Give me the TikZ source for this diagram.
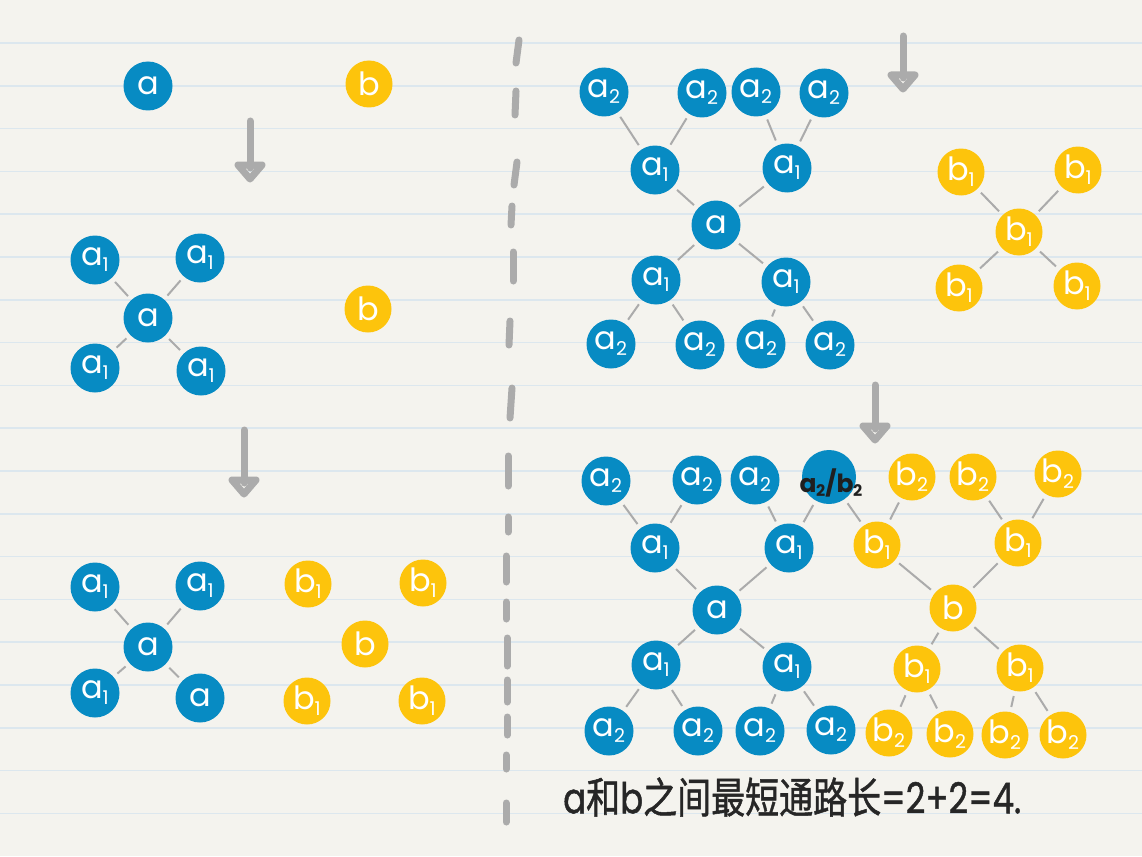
\documentclass[tikz,border=0pt]{standalone}
\usepackage{fontspec}
\setmainfont{Poppins}
\newfontfamily\cjk[FakeBold=1.2]{Noto Sans CJK SC}
\newfontfamily\pop[FakeBold=1.2]{Poppins}
\definecolor{bg}{HTML}{F4F3EE}
\definecolor{ruleblue}{HTML}{DCE7EE}
\definecolor{nblue}{HTML}{078BC3}
\definecolor{nyel}{HTML}{FDC40C}
\definecolor{gr}{HTML}{ABABAB}
\newcommand\lab{\fontsize{32}{32}\selectfont}
\newcommand\sublab[2]{#1\kern-0.5pt\raisebox{-6pt}{\fontsize{19}{19}\selectfont #2}}
\tikzset{
  bn/.style={circle, fill=nblue, minimum size=49pt, inner sep=0pt, text=white, font=\lab},
  yn/.style={circle, fill=nyel, minimum size=47pt, inner sep=0pt, text=white, font=\lab},
  edge/.style={draw=gr, line width=2pt, shorten <=5pt, shorten >=5pt},
  dashseg/.style={draw=gr, line width=7pt, line cap=round},
  arrowline/.style={draw=gr, line width=7pt, line cap=round, line join=round},
  ruleline/.style={draw=ruleblue, line width=1.5pt}
}
\newcommand\garrow[4]{%
  \coordinate (#1s) at (#2,#3);
  \coordinate (#1e) at (#2,#4-14);
  \draw[arrowline] (#1s) -- (#1e);
  \draw[arrowline] (#2-12,#4-17) -- (#2+12,#4-17) -- (#2,#4-3) -- cycle;
}
\begin{document}
\begin{tikzpicture}[x=1pt,y=-1pt]
\useasboundingbox (0,0) rectangle (1142,856);
\fill[bg] (0,0) rectangle (1142,856);
\foreach \i in {0,...,18} \draw[ruleline] (0,{43+\i*42.8}) -- (1142,{43+\i*42.8});
% divider
\foreach \xa/\ya/\xb/\yb in {519/40/516/63, 516/91/515/115, 517/162/514/185, 512/206/511/225,
  513/252/513/281, 510/321/509/345, 512/388/510/418, 508/456/508/486, 508/517/508/532,
  506/556/506/582, 506/602/506/619, 507/638/507/666, 507/680/507/702, 507/717/507/735,
  506/755/506/769, 506/803/506/822}
  \draw[dashseg] (\xa,\ya) -- (\xb,\yb);
% arrows
\garrow{arA}{250}{121}{182}
\garrow{arB}{244}{430}{497}
\garrow{arC}{903}{36}{92}
\garrow{arD}{875}{385}{443}
% left row 1
\node[bn] (L1a) at (148,86) {a};
\node[yn] (L1b) at (369,84) {b};
% left row 2
\node[bn] (L2a) at (148,318) {a};
\node[bn] (L2p) at (95,260) {\sublab{a}{1}};
\node[bn] (L2q) at (200,258) {\sublab{a}{1}};
\node[bn] (L2r) at (95,368) {\sublab{a}{1}};
\node[bn] (L2s) at (201,371) {\sublab{a}{1}};
\node[yn] (L2b) at (368,309) {b};
\foreach \n in {L2p,L2q,L2r,L2s} \draw[edge] (L2a) -- (\n);
% left row 3
\node[bn] (L3a) at (148,647) {a};
\node[bn] (L3p) at (95,587) {\sublab{a}{1}};
\node[bn] (L3q) at (200,586) {\sublab{a}{1}};
\node[bn] (L3r) at (95,693) {\sublab{a}{1}};
\node[bn] (L3s) at (200,698) {a};
\foreach \n in {L3p,L3q,L3r,L3s} \draw[edge] (L3a) -- (\n);
\node[yn] (L3b) at (365,644) {b};
\node[yn] (L3u) at (308,584) {\sublab{b}{1}};
\node[yn] (L3v) at (423,583) {\sublab{b}{1}};
\node[yn] (L3w) at (307,701) {\sublab{b}{1}};
\node[yn] (L3x) at (422,701) {\sublab{b}{1}};
% right top
\node[bn] (RTa) at (716,225) {a};
\node[bn] (RTp) at (655,170) {\sublab{a}{1}};
\node[bn] (RTq) at (787,168) {\sublab{a}{1}};
\node[bn] (RTr) at (656,280) {\sublab{a}{1}};
\node[bn] (RTs) at (786,282) {\sublab{a}{1}};
\node[bn] (RT1) at (604,92) {\sublab{a}{2}};
\node[bn] (RT2) at (702,93) {\sublab{a}{2}};
\node[bn] (RT3) at (756,92) {\sublab{a}{2}};
\node[bn] (RT4) at (824,93) {\sublab{a}{2}};
\node[bn] (RT5) at (611,344) {\sublab{a}{2}};
\node[bn] (RT6) at (700,345) {\sublab{a}{2}};
\node[bn] (RT7) at (761,344) {\sublab{a}{2}};
\node[bn] (RT8) at (830,345) {\sublab{a}{2}};
\foreach \u/\v in {RT1/RTp, RT2/RTp, RT3/RTq, RT4/RTq, RTp/RTa, RTq/RTa, RTa/RTr, RTa/RTs,
  RTr/RT5, RTr/RT6, RTs/RT7, RTs/RT8} \draw[edge] (\u) -- (\v);
\node[yn] (RTb) at (1019,232) {\sublab{b}{1}};
\node[yn] (RTu) at (961,172) {\sublab{b}{1}};
\node[yn] (RTv) at (1078,170) {\sublab{b}{1}};
\node[yn] (RTw) at (959,288) {\sublab{b}{1}};
\node[yn] (RTx) at (1077,286) {\sublab{b}{1}};
\foreach \n in {RTu,RTv,RTw,RTx} \draw[edge] (RTb) -- (\n);
% right bottom
\node[bn] (RBa) at (717,610) {a};
\node[bn] (RBp) at (655,548) {\sublab{a}{1}};
\node[bn] (RBq) at (789,548) {\sublab{a}{1}};
\node[bn] (RBr) at (656,665) {\sublab{a}{1}};
\node[bn] (RBs) at (787,667) {\sublab{a}{1}};
\node[bn] (RB1) at (606,481) {\sublab{a}{2}};
\node[bn] (RB2) at (697,480) {\sublab{a}{2}};
\node[bn] (RB3) at (755,480) {\sublab{a}{2}};
\node[bn, minimum size=54pt] (RB4) at (829,477) {};
\node[text=black!88, font=\fontsize{25}{25}\selectfont\bfseries] (RB4t) at (831,483)
  {a\kern-0.5pt\raisebox{-4pt}{\fontsize{16}{16}\selectfont 2}/b\kern-0.5pt\raisebox{-4pt}{\fontsize{16}{16}\selectfont 2}};
\node[bn] (RB5) at (609,731) {\sublab{a}{2}};
\node[bn] (RB6) at (698,731) {\sublab{a}{2}};
\node[bn] (RB7) at (760,731) {\sublab{a}{2}};
\node[bn] (RB8) at (831,730) {\sublab{a}{2}};
\foreach \u/\v in {RB1/RBp, RB2/RBp, RB3/RBq, RB4/RBq, RBp/RBa, RBq/RBa, RBa/RBr, RBa/RBs,
  RBr/RB5, RBr/RB6, RBs/RB7, RBs/RB8} \draw[edge] (\u) -- (\v);
\node[yn] (RBb) at (953,608) {b};
\node[yn] (RBu) at (877,545) {\sublab{b}{1}};
\node[yn] (RBv) at (1018,543) {\sublab{b}{1}};
\node[yn] (RBw) at (917,669) {\sublab{b}{1}};
\node[yn] (RBx) at (1020,668) {\sublab{b}{1}};
\node[yn] (RBc1) at (912,477) {\sublab{b}{2}};
\node[yn] (RBc2) at (973,477) {\sublab{b}{2}};
\node[yn] (RBc3) at (1058,474) {\sublab{b}{2}};
\node[yn] (RBd1) at (889,733) {\sublab{b}{2}};
\node[yn] (RBd2) at (950,734) {\sublab{b}{2}};
\node[yn] (RBd3) at (1005,735) {\sublab{b}{2}};
\node[yn] (RBd4) at (1063,735) {\sublab{b}{2}};
\foreach \u/\v in {RB4/RBu, RBc1/RBu, RBc2/RBv, RBc3/RBv, RBu/RBb, RBv/RBb, RBb/RBw, RBb/RBx,
  RBw/RBd1, RBw/RBd2, RBx/RBd3, RBx/RBd4} \draw[edge] (\u) -- (\v);
% caption
\node[anchor=west, text=black!85, inner sep=0pt, font=\fontsize{34}{34}\selectfont] (cap) at (563,797)
  {\scalebox{1}[1.25]{{\pop a}{\cjk 和}{\pop b}{\cjk 之间最短通路长}{\pop =2+2=4.}}};
\end{tikzpicture}
\end{document}
